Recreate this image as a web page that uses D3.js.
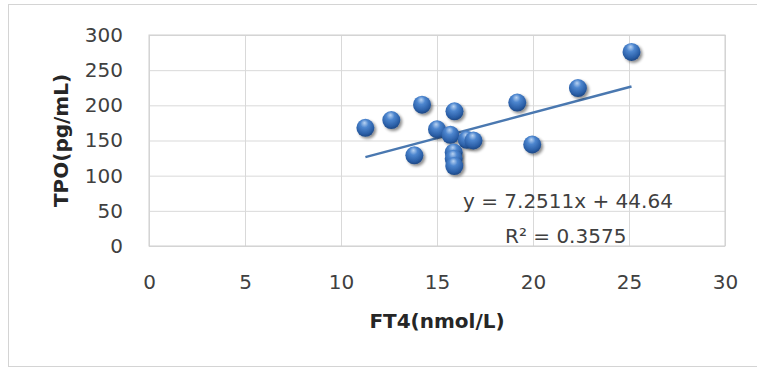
<!DOCTYPE html>
<html>
<head>
<meta charset="utf-8">
<script src="https://cdn.jsdelivr.net/npm/d3@7"></script>
<style>
  body { margin: 0; background: #fff; }
  svg { display: block; font-family: "DejaVu Sans", sans-serif; }
</style>
</head>
<body>
<div id="chart"></div>
<script>
// data
var ft4 = [11.27, 12.62, 14.22, 13.82, 15.0, 15.91, 15.7, 16.55, 16.9, 15.87, 15.87, 15.9, 19.18, 19.96, 22.34, 25.13];
var tpo = [168, 179, 201, 129, 166, 191.5, 158, 151, 150, 133, 124, 113.6, 204, 144.3, 224.5, 276];
var xTicks = [0, 5, 10, 15, 20, 25, 30];
var yTicks = [0, 50, 100, 150, 200, 250, 300];
var slope = 7.2511, intercept = 44.64;
var eqLines = ["y = 7.2511x + 44.64", "R\u00B2 = 0.3575"];

var svgWidth = 757, svgHeight = 369;
var margin = { top: 35, right: 32, bottom: 123, left: 149 };
var width = svgWidth - margin.left - margin.right;
var height = svgHeight - margin.top - margin.bottom;

var svg = d3.select("#chart").append("svg")
  .attr("width", svgWidth)
  .attr("height", svgHeight);

// sphere look
var defs = svg.append("defs");
var grad = defs.append("radialGradient")
  .attr("id", "ball")
  .attr("cx", "45%").attr("cy", "35%").attr("r", "65%")
  .attr("fx", "45%").attr("fy", "22%");
grad.append("stop").attr("offset", "0%").attr("stop-color", "#b9d3f2");
grad.append("stop").attr("offset", "35%").attr("stop-color", "#4d86cf");
grad.append("stop").attr("offset", "80%").attr("stop-color", "#2a5ea6");
grad.append("stop").attr("offset", "100%").attr("stop-color", "#1d4783");

var shadow = defs.append("filter").attr("id", "shadow")
  .attr("x", "-50%").attr("y", "-50%").attr("width", "200%").attr("height", "200%");
shadow.append("feGaussianBlur").attr("in", "SourceAlpha").attr("stdDeviation", 1.6);
shadow.append("feOffset").attr("dx", 1.5).attr("dy", 2).attr("result", "off");
shadow.append("feComponentTransfer").append("feFuncA").attr("type", "linear").attr("slope", 0.45);
var merge = shadow.append("feMerge");
merge.append("feMergeNode");
merge.append("feMergeNode").attr("in", "SourceGraphic");

// outer frame
svg.append("rect")
  .attr("x", 8.5).attr("y", 4.5)
  .attr("width", 770).attr("height", 362)
  .attr("fill", "#fff")
  .attr("stroke", "#d4d4d4");

var chartGroup = svg.append("g")
  .attr("transform", `translate(${margin.left}, ${margin.top})`);

var xScale = d3.scaleLinear().domain([0, 30]).range([0, width]);
var yScale = d3.scaleLinear().domain([0, 300]).range([height, 0]);

// gridlines
chartGroup.append("g")
  .call(d3.axisBottom(xScale).tickValues(xTicks).tickSize(height).tickFormat(""))
  .call(g => g.select(".domain").remove())
  .selectAll("line").attr("stroke", "#d9d9d9");

chartGroup.append("g")
  .call(d3.axisLeft(yScale).tickValues(yTicks).tickSize(-width).tickFormat(""))
  .call(g => g.select(".domain").remove())
  .selectAll("line").attr("stroke", "#d9d9d9");

chartGroup.append("rect")
  .attr("width", width).attr("height", height)
  .attr("fill", "none").attr("stroke", "#cfcfcf");

// axes labels
var xAxis = chartGroup.append("g")
  .attr("transform", `translate(0, ${height})`)
  .call(d3.axisBottom(xScale).tickValues(xTicks).tickSize(0).tickPadding(29));
xAxis.select(".domain").remove();
xAxis.selectAll("text")
  .attr("font-family", "DejaVu Sans, sans-serif")
  .attr("font-size", "20px")
  .attr("fill", "#404040");

var yAxis = chartGroup.append("g")
  .call(d3.axisLeft(yScale).tickValues(yTicks).tickSize(0).tickPadding(26));
yAxis.select(".domain").remove();
yAxis.selectAll("text")
  .attr("font-family", "DejaVu Sans, sans-serif")
  .attr("font-size", "20px")
  .attr("fill", "#404040");

// trend line over the data range
var xExt = d3.extent(ft4);
chartGroup.append("line")
  .attr("x1", xScale(xExt[0])).attr("y1", yScale(slope * xExt[0] + intercept))
  .attr("x2", xScale(xExt[1])).attr("y2", yScale(slope * xExt[1] + intercept))
  .attr("stroke", "#4a78b0")
  .attr("stroke-width", 2.5);

// points
var points = ft4.map((d, i) => ({ x: d, y: tpo[i] }));
chartGroup.selectAll("circle.pt")
  .data(points)
  .enter()
  .append("circle")
  .attr("class", "pt")
  .attr("cx", d => xScale(d.x))
  .attr("cy", d => yScale(d.y))
  .attr("r", 9)
  .attr("fill", "url(#ball)")
  .attr("filter", "url(#shadow)");

// equation text
chartGroup.append("text")
  .attr("x", 314).attr("y", 173)
  .attr("font-size", "20px")
  .attr("fill", "#404040")
  .text(eqLines[0]);
chartGroup.append("text")
  .attr("x", 356).attr("y", 208)
  .attr("font-size", "20px")
  .attr("fill", "#404040")
  .text(eqLines[1]);

// axis titles
svg.append("text")
  .attr("x", margin.left + width / 2)
  .attr("y", 328)
  .attr("text-anchor", "middle")
  .attr("font-size", "20px")
  .attr("font-weight", "bold")
  .attr("fill", "#262626")
  .text("FT4(nmol/L)");

svg.append("text")
  .attr("transform", `translate(68, ${margin.top + height / 2}) rotate(-90)`)
  .attr("text-anchor", "middle")
  .attr("font-size", "20px")
  .attr("font-weight", "bold")
  .attr("fill", "#262626")
  .text("TPO(pg/mL)");
</script>
</body>
</html>
